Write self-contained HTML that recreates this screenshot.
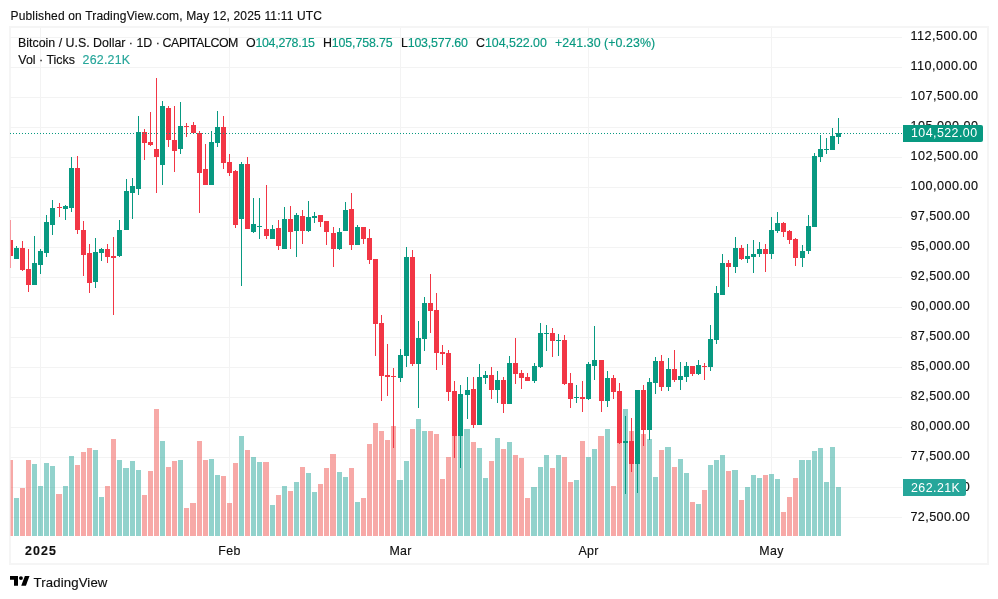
<!DOCTYPE html>
<html><head><meta charset="utf-8"><title>BTCUSD chart</title>
<style>
html,body{margin:0;padding:0;background:#fff;}
body{width:998px;height:599px;position:relative;overflow:hidden;font-family:"Liberation Sans",sans-serif;color:#0f0f0f;}
.abs{position:absolute;white-space:nowrap;}
#hdr,.lg,.pl,.tl,#brand{-webkit-text-stroke:0.15px currentColor;}
#hdr{left:10.5px;top:9px;font-size:12px;line-height:15px;letter-spacing:0.17px;color:#0f0f0f;}
#frame{position:absolute;left:9px;top:26px;width:976px;height:535px;border:2px solid #f5f5f5;}
svg{position:absolute;left:0;top:0;}
.lg{position:absolute;white-space:nowrap;font-size:12.4px;line-height:15px;letter-spacing:-0.13px;color:#0f0f0f;}
.g{color:#089981;}
.v{color:#26a69a;}
.pl{position:absolute;left:910.4px;height:20px;line-height:20px;font-size:12.6px;letter-spacing:0.42px;color:#0f0f0f;white-space:nowrap;}
.tl{position:absolute;top:541px;width:61px;text-align:center;height:20px;line-height:20px;font-size:12.4px;letter-spacing:0.3px;color:#0f0f0f;white-space:nowrap;}
.tl.b{font-weight:bold;letter-spacing:1.1px;text-indent:1.1px;}
.tag{position:absolute;left:903px;height:17px;line-height:17px;border-radius:0 2px 2px 0;color:#fff;font-size:12.4px;letter-spacing:0.45px;padding-left:8px;box-sizing:border-box;white-space:nowrap;}
#ptag{top:125px;width:80px;background:#089981;}
#vtag{top:479px;width:63px;background:#26a69a;line-height:19px;}
#brand{left:33.5px;top:574px;font-size:13.2px;line-height:18px;letter-spacing:0.13px;color:#0f0f0f;}
</style></head><body>
<div id="hdr" class="abs">Published on TradingView.com, May 12, 2025 11:11 UTC</div>
<div id="frame"></div>
<svg width="998" height="599" viewBox="0 0 998 599" shape-rendering="crispEdges">
<rect x="10" y="37" width="892" height="1" fill="#f3f3f3"/>
<rect x="10" y="67" width="892" height="1" fill="#f3f3f3"/>
<rect x="10" y="97" width="892" height="1" fill="#f3f3f3"/>
<rect x="10" y="127" width="892" height="1" fill="#f3f3f3"/>
<rect x="10" y="157" width="892" height="1" fill="#f3f3f3"/>
<rect x="10" y="187" width="892" height="1" fill="#f3f3f3"/>
<rect x="10" y="217" width="892" height="1" fill="#f3f3f3"/>
<rect x="10" y="247" width="892" height="1" fill="#f3f3f3"/>
<rect x="10" y="277" width="892" height="1" fill="#f3f3f3"/>
<rect x="10" y="307" width="892" height="1" fill="#f3f3f3"/>
<rect x="10" y="337" width="892" height="1" fill="#f3f3f3"/>
<rect x="10" y="367" width="892" height="1" fill="#f3f3f3"/>
<rect x="10" y="397" width="892" height="1" fill="#f3f3f3"/>
<rect x="10" y="427" width="892" height="1" fill="#f3f3f3"/>
<rect x="10" y="457" width="892" height="1" fill="#f3f3f3"/>
<rect x="10" y="487" width="892" height="1" fill="#f3f3f3"/>
<rect x="10" y="517" width="892" height="1" fill="#f3f3f3"/>
<rect x="40" y="28" width="1" height="508" fill="#f3f3f3"/>
<rect x="229" y="28" width="1" height="508" fill="#f3f3f3"/>
<rect x="400" y="28" width="1" height="508" fill="#f3f3f3"/>
<rect x="588" y="28" width="1" height="508" fill="#f3f3f3"/>
<rect x="771" y="28" width="1" height="508" fill="#f3f3f3"/>
<rect x="10" y="460" width="3" height="76" fill="rgba(239,83,80,0.5)"/>
<rect x="14" y="498" width="5" height="38" fill="rgba(38,166,154,0.5)"/>
<rect x="20" y="488" width="5" height="48" fill="rgba(239,83,80,0.5)"/>
<rect x="26" y="460" width="5" height="76" fill="rgba(239,83,80,0.5)"/>
<rect x="32" y="464" width="5" height="72" fill="rgba(38,166,154,0.5)"/>
<rect x="38" y="486" width="5" height="50" fill="rgba(38,166,154,0.5)"/>
<rect x="44" y="463" width="5" height="73" fill="rgba(38,166,154,0.5)"/>
<rect x="50" y="466" width="5" height="70" fill="rgba(38,166,154,0.5)"/>
<rect x="56" y="494" width="6" height="42" fill="rgba(239,83,80,0.5)"/>
<rect x="63" y="486" width="5" height="50" fill="rgba(38,166,154,0.5)"/>
<rect x="69" y="456" width="5" height="80" fill="rgba(38,166,154,0.5)"/>
<rect x="75" y="465" width="5" height="71" fill="rgba(239,83,80,0.5)"/>
<rect x="81" y="452" width="5" height="84" fill="rgba(239,83,80,0.5)"/>
<rect x="87" y="448" width="5" height="88" fill="rgba(239,83,80,0.5)"/>
<rect x="93" y="450" width="5" height="86" fill="rgba(38,166,154,0.5)"/>
<rect x="99" y="497" width="5" height="39" fill="rgba(38,166,154,0.5)"/>
<rect x="105" y="486" width="5" height="50" fill="rgba(239,83,80,0.5)"/>
<rect x="111" y="439" width="5" height="97" fill="rgba(239,83,80,0.5)"/>
<rect x="117" y="460" width="5" height="76" fill="rgba(38,166,154,0.5)"/>
<rect x="123" y="468" width="6" height="68" fill="rgba(38,166,154,0.5)"/>
<rect x="130" y="461" width="5" height="75" fill="rgba(38,166,154,0.5)"/>
<rect x="136" y="470" width="5" height="66" fill="rgba(38,166,154,0.5)"/>
<rect x="142" y="495" width="5" height="41" fill="rgba(239,83,80,0.5)"/>
<rect x="148" y="471" width="5" height="65" fill="rgba(239,83,80,0.5)"/>
<rect x="154" y="409" width="5" height="127" fill="rgba(239,83,80,0.5)"/>
<rect x="160" y="441" width="5" height="95" fill="rgba(38,166,154,0.5)"/>
<rect x="166" y="467" width="5" height="69" fill="rgba(239,83,80,0.5)"/>
<rect x="172" y="461" width="5" height="75" fill="rgba(239,83,80,0.5)"/>
<rect x="178" y="460" width="5" height="76" fill="rgba(38,166,154,0.5)"/>
<rect x="184" y="508" width="5" height="28" fill="rgba(239,83,80,0.5)"/>
<rect x="190" y="503" width="6" height="33" fill="rgba(239,83,80,0.5)"/>
<rect x="197" y="441" width="5" height="95" fill="rgba(239,83,80,0.5)"/>
<rect x="203" y="460" width="5" height="76" fill="rgba(239,83,80,0.5)"/>
<rect x="209" y="459" width="5" height="77" fill="rgba(38,166,154,0.5)"/>
<rect x="215" y="475" width="5" height="61" fill="rgba(38,166,154,0.5)"/>
<rect x="221" y="476" width="5" height="60" fill="rgba(239,83,80,0.5)"/>
<rect x="227" y="503" width="5" height="33" fill="rgba(239,83,80,0.5)"/>
<rect x="233" y="463" width="5" height="73" fill="rgba(239,83,80,0.5)"/>
<rect x="239" y="436" width="5" height="100" fill="rgba(38,166,154,0.5)"/>
<rect x="245" y="450" width="5" height="86" fill="rgba(239,83,80,0.5)"/>
<rect x="251" y="457" width="5" height="79" fill="rgba(38,166,154,0.5)"/>
<rect x="257" y="462" width="5" height="74" fill="rgba(38,166,154,0.5)"/>
<rect x="263" y="462" width="6" height="74" fill="rgba(239,83,80,0.5)"/>
<rect x="270" y="505" width="5" height="31" fill="rgba(38,166,154,0.5)"/>
<rect x="276" y="495" width="5" height="41" fill="rgba(239,83,80,0.5)"/>
<rect x="282" y="486" width="5" height="50" fill="rgba(38,166,154,0.5)"/>
<rect x="288" y="491" width="5" height="45" fill="rgba(239,83,80,0.5)"/>
<rect x="294" y="482" width="5" height="54" fill="rgba(38,166,154,0.5)"/>
<rect x="300" y="467" width="5" height="69" fill="rgba(239,83,80,0.5)"/>
<rect x="306" y="473" width="5" height="63" fill="rgba(38,166,154,0.5)"/>
<rect x="312" y="492" width="5" height="44" fill="rgba(38,166,154,0.5)"/>
<rect x="318" y="484" width="5" height="52" fill="rgba(239,83,80,0.5)"/>
<rect x="324" y="468" width="5" height="68" fill="rgba(239,83,80,0.5)"/>
<rect x="330" y="454" width="6" height="82" fill="rgba(239,83,80,0.5)"/>
<rect x="337" y="472" width="5" height="64" fill="rgba(38,166,154,0.5)"/>
<rect x="343" y="477" width="5" height="59" fill="rgba(38,166,154,0.5)"/>
<rect x="349" y="468" width="5" height="68" fill="rgba(239,83,80,0.5)"/>
<rect x="355" y="502" width="5" height="34" fill="rgba(38,166,154,0.5)"/>
<rect x="361" y="498" width="5" height="38" fill="rgba(239,83,80,0.5)"/>
<rect x="367" y="444" width="5" height="92" fill="rgba(239,83,80,0.5)"/>
<rect x="373" y="423" width="5" height="113" fill="rgba(239,83,80,0.5)"/>
<rect x="379" y="431" width="5" height="105" fill="rgba(239,83,80,0.5)"/>
<rect x="385" y="440" width="5" height="96" fill="rgba(239,83,80,0.5)"/>
<rect x="391" y="426" width="5" height="110" fill="rgba(239,83,80,0.5)"/>
<rect x="397" y="480" width="6" height="56" fill="rgba(38,166,154,0.5)"/>
<rect x="404" y="461" width="5" height="75" fill="rgba(38,166,154,0.5)"/>
<rect x="410" y="429" width="5" height="107" fill="rgba(239,83,80,0.5)"/>
<rect x="416" y="419" width="5" height="117" fill="rgba(38,166,154,0.5)"/>
<rect x="422" y="431" width="5" height="105" fill="rgba(38,166,154,0.5)"/>
<rect x="428" y="431" width="5" height="105" fill="rgba(239,83,80,0.5)"/>
<rect x="434" y="434" width="5" height="102" fill="rgba(239,83,80,0.5)"/>
<rect x="440" y="479" width="5" height="57" fill="rgba(239,83,80,0.5)"/>
<rect x="446" y="457" width="5" height="79" fill="rgba(239,83,80,0.5)"/>
<rect x="452" y="430" width="5" height="106" fill="rgba(239,83,80,0.5)"/>
<rect x="458" y="430" width="5" height="106" fill="rgba(38,166,154,0.5)"/>
<rect x="464" y="429" width="6" height="107" fill="rgba(38,166,154,0.5)"/>
<rect x="471" y="442" width="5" height="94" fill="rgba(239,83,80,0.5)"/>
<rect x="477" y="448" width="5" height="88" fill="rgba(38,166,154,0.5)"/>
<rect x="483" y="478" width="5" height="58" fill="rgba(38,166,154,0.5)"/>
<rect x="489" y="461" width="5" height="75" fill="rgba(239,83,80,0.5)"/>
<rect x="495" y="438" width="5" height="98" fill="rgba(38,166,154,0.5)"/>
<rect x="501" y="449" width="5" height="87" fill="rgba(239,83,80,0.5)"/>
<rect x="507" y="442" width="5" height="94" fill="rgba(38,166,154,0.5)"/>
<rect x="513" y="455" width="5" height="81" fill="rgba(239,83,80,0.5)"/>
<rect x="519" y="458" width="5" height="78" fill="rgba(239,83,80,0.5)"/>
<rect x="525" y="498" width="5" height="38" fill="rgba(239,83,80,0.5)"/>
<rect x="531" y="487" width="6" height="49" fill="rgba(38,166,154,0.5)"/>
<rect x="538" y="467" width="5" height="69" fill="rgba(38,166,154,0.5)"/>
<rect x="544" y="455" width="5" height="81" fill="rgba(38,166,154,0.5)"/>
<rect x="550" y="468" width="5" height="68" fill="rgba(239,83,80,0.5)"/>
<rect x="556" y="455" width="5" height="81" fill="rgba(38,166,154,0.5)"/>
<rect x="562" y="457" width="5" height="79" fill="rgba(239,83,80,0.5)"/>
<rect x="568" y="482" width="5" height="54" fill="rgba(239,83,80,0.5)"/>
<rect x="574" y="480" width="5" height="56" fill="rgba(38,166,154,0.5)"/>
<rect x="580" y="441" width="5" height="95" fill="rgba(239,83,80,0.5)"/>
<rect x="586" y="457" width="5" height="79" fill="rgba(38,166,154,0.5)"/>
<rect x="592" y="449" width="5" height="87" fill="rgba(38,166,154,0.5)"/>
<rect x="598" y="436" width="6" height="100" fill="rgba(239,83,80,0.5)"/>
<rect x="605" y="429" width="5" height="107" fill="rgba(38,166,154,0.5)"/>
<rect x="611" y="486" width="5" height="50" fill="rgba(239,83,80,0.5)"/>
<rect x="617" y="440" width="5" height="96" fill="rgba(239,83,80,0.5)"/>
<rect x="623" y="409" width="5" height="127" fill="rgba(38,166,154,0.5)"/>
<rect x="629" y="431" width="5" height="105" fill="rgba(239,83,80,0.5)"/>
<rect x="635" y="430" width="5" height="106" fill="rgba(38,166,154,0.5)"/>
<rect x="641" y="434" width="5" height="102" fill="rgba(239,83,80,0.5)"/>
<rect x="647" y="439" width="5" height="97" fill="rgba(38,166,154,0.5)"/>
<rect x="653" y="477" width="5" height="59" fill="rgba(38,166,154,0.5)"/>
<rect x="659" y="450" width="5" height="86" fill="rgba(239,83,80,0.5)"/>
<rect x="665" y="447" width="6" height="89" fill="rgba(38,166,154,0.5)"/>
<rect x="672" y="467" width="5" height="69" fill="rgba(239,83,80,0.5)"/>
<rect x="678" y="459" width="5" height="77" fill="rgba(38,166,154,0.5)"/>
<rect x="684" y="473" width="5" height="63" fill="rgba(38,166,154,0.5)"/>
<rect x="690" y="502" width="5" height="34" fill="rgba(239,83,80,0.5)"/>
<rect x="696" y="504" width="5" height="32" fill="rgba(38,166,154,0.5)"/>
<rect x="702" y="490" width="5" height="46" fill="rgba(239,83,80,0.5)"/>
<rect x="708" y="465" width="5" height="71" fill="rgba(38,166,154,0.5)"/>
<rect x="714" y="460" width="5" height="76" fill="rgba(38,166,154,0.5)"/>
<rect x="720" y="455" width="5" height="81" fill="rgba(38,166,154,0.5)"/>
<rect x="726" y="471" width="5" height="65" fill="rgba(239,83,80,0.5)"/>
<rect x="732" y="470" width="6" height="66" fill="rgba(38,166,154,0.5)"/>
<rect x="739" y="500" width="5" height="36" fill="rgba(239,83,80,0.5)"/>
<rect x="745" y="487" width="5" height="49" fill="rgba(38,166,154,0.5)"/>
<rect x="751" y="475" width="5" height="61" fill="rgba(38,166,154,0.5)"/>
<rect x="757" y="478" width="5" height="58" fill="rgba(38,166,154,0.5)"/>
<rect x="763" y="475" width="5" height="61" fill="rgba(239,83,80,0.5)"/>
<rect x="769" y="474" width="5" height="62" fill="rgba(38,166,154,0.5)"/>
<rect x="775" y="479" width="5" height="57" fill="rgba(38,166,154,0.5)"/>
<rect x="781" y="512" width="5" height="24" fill="rgba(239,83,80,0.5)"/>
<rect x="787" y="497" width="5" height="39" fill="rgba(239,83,80,0.5)"/>
<rect x="793" y="478" width="5" height="58" fill="rgba(239,83,80,0.5)"/>
<rect x="799" y="460" width="6" height="76" fill="rgba(38,166,154,0.5)"/>
<rect x="806" y="460" width="5" height="76" fill="rgba(38,166,154,0.5)"/>
<rect x="812" y="451" width="5" height="85" fill="rgba(38,166,154,0.5)"/>
<rect x="818" y="448" width="5" height="88" fill="rgba(38,166,154,0.5)"/>
<rect x="824" y="482" width="5" height="54" fill="rgba(38,166,154,0.5)"/>
<rect x="830" y="447" width="5" height="89" fill="rgba(38,166,154,0.5)"/>
<rect x="836" y="487" width="5" height="49" fill="rgba(38,166,154,0.5)"/>
<rect x="10" y="220" width="1" height="48" fill="#f23645"/>
<rect x="10" y="240" width="3" height="15.5" fill="#f23645"/>
<rect x="16" y="246" width="1" height="13" fill="#089981"/>
<rect x="14" y="248" width="5" height="11" fill="#089981"/>
<rect x="22" y="241" width="1" height="30" fill="#f23645"/>
<rect x="20" y="248" width="5" height="22" fill="#f23645"/>
<rect x="28" y="249" width="1" height="43" fill="#f23645"/>
<rect x="26" y="269" width="5" height="16" fill="#f23645"/>
<rect x="34" y="236" width="1" height="49" fill="#089981"/>
<rect x="32" y="263" width="5" height="22" fill="#089981"/>
<rect x="40" y="249" width="1" height="25" fill="#089981"/>
<rect x="38" y="251" width="5" height="14" fill="#089981"/>
<rect x="46" y="215" width="1" height="42" fill="#089981"/>
<rect x="44" y="222" width="5" height="31" fill="#089981"/>
<rect x="52" y="200" width="1" height="35" fill="#089981"/>
<rect x="50" y="208" width="5" height="17" fill="#089981"/>
<rect x="59" y="203" width="1" height="14" fill="#f23645"/>
<rect x="57" y="207" width="5" height="1" fill="#f23645"/>
<rect x="65" y="205" width="1" height="15" fill="#089981"/>
<rect x="63" y="206" width="5" height="3" fill="#089981"/>
<rect x="71" y="157" width="1" height="55" fill="#089981"/>
<rect x="69" y="168" width="5" height="40" fill="#089981"/>
<rect x="77" y="156" width="1" height="78" fill="#f23645"/>
<rect x="75" y="168" width="5" height="62" fill="#f23645"/>
<rect x="83" y="221" width="1" height="55" fill="#f23645"/>
<rect x="81" y="230" width="5" height="25" fill="#f23645"/>
<rect x="89" y="244" width="1" height="49" fill="#f23645"/>
<rect x="87" y="253" width="5" height="30" fill="#f23645"/>
<rect x="95" y="238" width="1" height="50" fill="#089981"/>
<rect x="93" y="252" width="5" height="30" fill="#089981"/>
<rect x="101" y="248" width="1" height="13" fill="#089981"/>
<rect x="99" y="249" width="5" height="4" fill="#089981"/>
<rect x="107" y="244" width="1" height="19" fill="#f23645"/>
<rect x="105" y="249" width="5" height="8" fill="#f23645"/>
<rect x="113" y="237" width="1" height="78" fill="#f23645"/>
<rect x="111" y="256" width="5" height="2" fill="#f23645"/>
<rect x="119" y="220" width="1" height="37" fill="#089981"/>
<rect x="117" y="230" width="5" height="26" fill="#089981"/>
<rect x="126" y="179" width="1" height="51" fill="#089981"/>
<rect x="124" y="191" width="5" height="39" fill="#089981"/>
<rect x="132" y="178" width="1" height="41" fill="#089981"/>
<rect x="130" y="186" width="5" height="7" fill="#089981"/>
<rect x="138" y="116" width="1" height="79" fill="#089981"/>
<rect x="136" y="132" width="5" height="57" fill="#089981"/>
<rect x="144" y="129" width="1" height="31" fill="#f23645"/>
<rect x="142" y="131.5" width="5" height="11" fill="#f23645"/>
<rect x="150" y="112" width="1" height="34" fill="#f23645"/>
<rect x="148" y="142" width="5" height="3" fill="#f23645"/>
<rect x="156" y="78" width="1" height="115" fill="#f23645"/>
<rect x="154" y="149" width="5" height="8" fill="#f23645"/>
<rect x="162" y="101" width="1" height="84" fill="#089981"/>
<rect x="160" y="106" width="5" height="59" fill="#089981"/>
<rect x="168" y="106" width="1" height="41" fill="#f23645"/>
<rect x="166" y="108" width="5" height="31.5" fill="#f23645"/>
<rect x="174" y="106" width="1" height="66" fill="#f23645"/>
<rect x="172" y="140" width="5" height="10.5" fill="#f23645"/>
<rect x="180" y="102" width="1" height="52" fill="#089981"/>
<rect x="178" y="126" width="5" height="22.5" fill="#089981"/>
<rect x="186" y="123" width="1" height="14" fill="#f23645"/>
<rect x="184" y="126" width="5" height="1" fill="#f23645"/>
<rect x="193" y="122" width="1" height="11" fill="#f23645"/>
<rect x="191" y="125" width="5" height="8" fill="#f23645"/>
<rect x="199" y="131" width="1" height="82" fill="#f23645"/>
<rect x="197" y="133" width="5" height="39.5" fill="#f23645"/>
<rect x="205" y="144" width="1" height="40.5" fill="#f23645"/>
<rect x="203" y="169" width="5" height="15.5" fill="#f23645"/>
<rect x="211" y="131" width="1" height="53.5" fill="#089981"/>
<rect x="209" y="142" width="5" height="42.5" fill="#089981"/>
<rect x="217" y="111" width="1" height="36" fill="#089981"/>
<rect x="215" y="127" width="5" height="15.5" fill="#089981"/>
<rect x="223" y="116" width="1" height="53" fill="#f23645"/>
<rect x="221" y="127" width="5" height="36" fill="#f23645"/>
<rect x="229" y="154" width="1" height="21.5" fill="#f23645"/>
<rect x="227" y="162" width="5" height="10.5" fill="#f23645"/>
<rect x="235" y="170" width="1" height="58" fill="#f23645"/>
<rect x="233" y="171" width="5" height="54" fill="#f23645"/>
<rect x="241" y="162" width="1" height="123.5" fill="#089981"/>
<rect x="239" y="164" width="5" height="55" fill="#089981"/>
<rect x="247" y="157" width="1" height="72" fill="#f23645"/>
<rect x="245" y="164" width="5" height="65" fill="#f23645"/>
<rect x="253" y="198" width="1" height="35" fill="#089981"/>
<rect x="251" y="224" width="5" height="8" fill="#089981"/>
<rect x="259" y="198" width="1" height="41" fill="#089981"/>
<rect x="257" y="226" width="5" height="1" fill="#089981"/>
<rect x="266" y="185" width="1" height="54" fill="#f23645"/>
<rect x="264" y="229" width="5" height="6.5" fill="#f23645"/>
<rect x="272" y="225" width="1" height="14" fill="#089981"/>
<rect x="270" y="229" width="5" height="10" fill="#089981"/>
<rect x="278" y="220" width="1" height="30" fill="#f23645"/>
<rect x="276" y="228" width="5" height="17.5" fill="#f23645"/>
<rect x="284" y="207" width="1" height="42" fill="#089981"/>
<rect x="282" y="219" width="5" height="30" fill="#089981"/>
<rect x="290" y="206" width="1" height="43" fill="#f23645"/>
<rect x="288" y="219" width="5" height="13" fill="#f23645"/>
<rect x="296" y="213" width="1" height="44" fill="#089981"/>
<rect x="294" y="215" width="5" height="16" fill="#089981"/>
<rect x="302" y="210" width="1" height="34" fill="#f23645"/>
<rect x="300" y="216" width="5" height="15" fill="#f23645"/>
<rect x="308" y="201" width="1" height="31" fill="#089981"/>
<rect x="306" y="217" width="5" height="14" fill="#089981"/>
<rect x="314" y="212" width="1" height="11" fill="#089981"/>
<rect x="312" y="215.5" width="5" height="2" fill="#089981"/>
<rect x="320" y="215" width="1" height="12" fill="#f23645"/>
<rect x="318" y="215" width="5" height="7" fill="#f23645"/>
<rect x="326" y="221" width="1" height="24" fill="#f23645"/>
<rect x="324" y="221" width="5" height="11" fill="#f23645"/>
<rect x="333" y="227" width="1" height="40" fill="#f23645"/>
<rect x="331" y="233" width="5" height="16" fill="#f23645"/>
<rect x="339" y="228" width="1" height="22" fill="#089981"/>
<rect x="337" y="232" width="5" height="17" fill="#089981"/>
<rect x="345" y="202" width="1" height="29" fill="#089981"/>
<rect x="343" y="210" width="5" height="21" fill="#089981"/>
<rect x="351" y="193" width="1" height="57" fill="#f23645"/>
<rect x="349" y="209" width="5" height="36" fill="#f23645"/>
<rect x="357" y="225" width="1" height="20" fill="#089981"/>
<rect x="355" y="227" width="5" height="18" fill="#089981"/>
<rect x="363" y="227" width="1" height="17" fill="#f23645"/>
<rect x="361" y="227" width="5" height="12" fill="#f23645"/>
<rect x="369" y="229" width="1" height="35" fill="#f23645"/>
<rect x="367" y="238" width="5" height="22" fill="#f23645"/>
<rect x="375" y="259" width="1" height="97" fill="#f23645"/>
<rect x="373" y="259" width="5" height="65" fill="#f23645"/>
<rect x="381" y="315" width="1" height="86" fill="#f23645"/>
<rect x="379" y="323" width="5" height="53" fill="#f23645"/>
<rect x="387" y="344" width="1" height="52" fill="#f23645"/>
<rect x="385" y="375" width="5" height="2" fill="#f23645"/>
<rect x="393" y="368" width="1" height="80" fill="#f23645"/>
<rect x="391" y="375.5" width="5" height="1.5" fill="#f23645"/>
<rect x="400" y="349" width="1" height="33" fill="#089981"/>
<rect x="398" y="355" width="5" height="23" fill="#089981"/>
<rect x="406" y="247" width="1" height="120" fill="#089981"/>
<rect x="404" y="257" width="5" height="99" fill="#089981"/>
<rect x="412" y="250" width="1" height="116" fill="#f23645"/>
<rect x="410" y="257" width="5" height="107" fill="#f23645"/>
<rect x="418" y="321" width="1" height="87" fill="#089981"/>
<rect x="416" y="338" width="5" height="26" fill="#089981"/>
<rect x="424" y="297" width="1" height="54" fill="#089981"/>
<rect x="422" y="303" width="5" height="36" fill="#089981"/>
<rect x="430" y="274" width="1" height="59" fill="#f23645"/>
<rect x="428" y="303" width="5" height="8" fill="#f23645"/>
<rect x="436" y="293" width="1" height="77" fill="#f23645"/>
<rect x="434" y="310" width="5" height="43" fill="#f23645"/>
<rect x="442" y="345" width="1" height="20" fill="#f23645"/>
<rect x="440" y="352" width="5" height="2" fill="#f23645"/>
<rect x="448" y="350" width="1" height="51" fill="#f23645"/>
<rect x="446" y="353" width="5" height="39" fill="#f23645"/>
<rect x="454" y="381" width="1" height="77" fill="#f23645"/>
<rect x="452" y="391" width="5" height="45" fill="#f23645"/>
<rect x="460" y="385" width="1" height="83" fill="#089981"/>
<rect x="458" y="394" width="5" height="42" fill="#089981"/>
<rect x="467" y="377" width="1" height="42" fill="#089981"/>
<rect x="465" y="390" width="5" height="5" fill="#089981"/>
<rect x="473" y="377" width="1" height="51" fill="#f23645"/>
<rect x="471" y="389" width="5" height="36" fill="#f23645"/>
<rect x="479" y="364" width="1" height="61" fill="#089981"/>
<rect x="477" y="377" width="5" height="48" fill="#089981"/>
<rect x="485" y="371" width="1" height="13" fill="#089981"/>
<rect x="483" y="375" width="5" height="3" fill="#089981"/>
<rect x="491" y="367" width="1" height="32" fill="#f23645"/>
<rect x="489" y="375" width="5" height="15" fill="#f23645"/>
<rect x="497" y="371" width="1" height="32" fill="#089981"/>
<rect x="495" y="380" width="5" height="10" fill="#089981"/>
<rect x="503" y="377" width="1" height="36" fill="#f23645"/>
<rect x="501" y="380" width="5" height="24" fill="#f23645"/>
<rect x="509" y="356" width="1" height="48" fill="#089981"/>
<rect x="507" y="363" width="5" height="41" fill="#089981"/>
<rect x="515" y="338" width="1" height="46" fill="#f23645"/>
<rect x="513" y="363" width="5" height="11" fill="#f23645"/>
<rect x="521" y="370" width="1" height="19" fill="#f23645"/>
<rect x="519" y="373" width="5" height="5" fill="#f23645"/>
<rect x="527" y="373" width="1" height="8" fill="#f23645"/>
<rect x="525" y="377" width="5" height="4" fill="#f23645"/>
<rect x="534" y="363" width="1" height="20" fill="#089981"/>
<rect x="532" y="366" width="5" height="15" fill="#089981"/>
<rect x="540" y="323" width="1" height="45" fill="#089981"/>
<rect x="538" y="333" width="5" height="34" fill="#089981"/>
<rect x="546" y="325" width="1" height="26" fill="#089981"/>
<rect x="544" y="333" width="5" height="1" fill="#089981"/>
<rect x="552" y="328" width="1" height="29" fill="#f23645"/>
<rect x="550" y="333" width="5" height="8" fill="#f23645"/>
<rect x="558" y="334" width="1" height="22" fill="#089981"/>
<rect x="556" y="340" width="5" height="1" fill="#089981"/>
<rect x="564" y="335" width="1" height="50" fill="#f23645"/>
<rect x="562" y="340" width="5" height="44" fill="#f23645"/>
<rect x="570" y="373" width="1" height="35" fill="#f23645"/>
<rect x="568" y="383" width="5" height="16" fill="#f23645"/>
<rect x="576" y="385" width="1" height="18" fill="#089981"/>
<rect x="574" y="397" width="5" height="1" fill="#089981"/>
<rect x="582" y="381" width="1" height="31" fill="#f23645"/>
<rect x="580" y="397" width="5" height="2" fill="#f23645"/>
<rect x="588" y="362" width="1" height="38" fill="#089981"/>
<rect x="586" y="364" width="5" height="35" fill="#089981"/>
<rect x="594" y="326" width="1" height="54" fill="#089981"/>
<rect x="592" y="360" width="5" height="6" fill="#089981"/>
<rect x="601" y="360" width="1" height="52" fill="#f23645"/>
<rect x="599" y="360" width="5" height="41" fill="#f23645"/>
<rect x="607" y="371" width="1" height="36" fill="#089981"/>
<rect x="605" y="378" width="5" height="23" fill="#089981"/>
<rect x="613" y="375" width="1" height="24" fill="#f23645"/>
<rect x="611" y="378" width="5" height="14" fill="#f23645"/>
<rect x="619" y="383" width="1" height="61" fill="#f23645"/>
<rect x="617" y="391" width="5" height="52" fill="#f23645"/>
<rect x="625" y="416" width="1" height="78" fill="#089981"/>
<rect x="623" y="441" width="5" height="2" fill="#089981"/>
<rect x="631" y="418" width="1" height="54" fill="#f23645"/>
<rect x="629" y="441" width="5" height="23" fill="#f23645"/>
<rect x="637" y="390" width="1" height="103" fill="#089981"/>
<rect x="635" y="390" width="5" height="74" fill="#089981"/>
<rect x="643" y="385" width="1" height="61" fill="#f23645"/>
<rect x="641" y="390" width="5" height="40" fill="#f23645"/>
<rect x="649" y="378" width="1" height="62" fill="#089981"/>
<rect x="647" y="382" width="5" height="48" fill="#089981"/>
<rect x="655" y="357" width="1" height="37" fill="#089981"/>
<rect x="653" y="361" width="5" height="22" fill="#089981"/>
<rect x="661" y="355" width="1" height="36" fill="#f23645"/>
<rect x="659" y="361" width="5" height="26" fill="#f23645"/>
<rect x="668" y="358" width="1" height="33" fill="#089981"/>
<rect x="666" y="369" width="5" height="18" fill="#089981"/>
<rect x="674" y="350" width="1" height="32" fill="#f23645"/>
<rect x="672" y="369" width="5" height="11" fill="#f23645"/>
<rect x="680" y="362" width="1" height="28" fill="#089981"/>
<rect x="678" y="376" width="5" height="4" fill="#089981"/>
<rect x="686" y="362" width="1" height="20" fill="#089981"/>
<rect x="684" y="366" width="5" height="11" fill="#089981"/>
<rect x="692" y="366" width="1" height="10" fill="#f23645"/>
<rect x="690" y="366" width="5" height="8" fill="#f23645"/>
<rect x="698" y="360" width="1" height="15" fill="#089981"/>
<rect x="696" y="365" width="5" height="9" fill="#089981"/>
<rect x="704" y="363" width="1" height="17" fill="#f23645"/>
<rect x="702" y="365.5" width="5" height="1.5" fill="#f23645"/>
<rect x="710" y="325" width="1" height="46" fill="#089981"/>
<rect x="708" y="339" width="5" height="28" fill="#089981"/>
<rect x="716" y="286" width="1" height="58" fill="#089981"/>
<rect x="714" y="293" width="5" height="47" fill="#089981"/>
<rect x="722" y="254" width="1" height="41" fill="#089981"/>
<rect x="720" y="263" width="5" height="32" fill="#089981"/>
<rect x="728" y="260" width="1" height="27" fill="#f23645"/>
<rect x="726" y="263" width="5" height="4" fill="#f23645"/>
<rect x="735" y="237" width="1" height="36" fill="#089981"/>
<rect x="733" y="248" width="5" height="19" fill="#089981"/>
<rect x="741" y="245" width="1" height="15" fill="#f23645"/>
<rect x="739" y="248" width="5" height="11" fill="#f23645"/>
<rect x="747" y="244" width="1" height="19" fill="#089981"/>
<rect x="745" y="256" width="5" height="3" fill="#089981"/>
<rect x="753" y="240" width="1" height="33" fill="#089981"/>
<rect x="751" y="254" width="5" height="3" fill="#089981"/>
<rect x="759" y="242" width="1" height="15" fill="#089981"/>
<rect x="757" y="249" width="5" height="5" fill="#089981"/>
<rect x="765" y="244" width="1" height="28" fill="#f23645"/>
<rect x="763" y="249" width="5" height="5" fill="#f23645"/>
<rect x="771" y="217" width="1" height="42" fill="#089981"/>
<rect x="769" y="230" width="5" height="24" fill="#089981"/>
<rect x="777" y="212" width="1" height="21" fill="#089981"/>
<rect x="775" y="223" width="5" height="8" fill="#089981"/>
<rect x="783" y="222" width="1" height="15" fill="#f23645"/>
<rect x="781" y="223" width="5" height="9" fill="#f23645"/>
<rect x="789" y="230" width="1" height="14" fill="#f23645"/>
<rect x="787" y="231" width="5" height="9" fill="#f23645"/>
<rect x="795" y="238" width="1" height="28" fill="#f23645"/>
<rect x="793" y="239" width="5" height="19" fill="#f23645"/>
<rect x="802" y="245" width="1" height="22" fill="#089981"/>
<rect x="800" y="251" width="5" height="7" fill="#089981"/>
<rect x="808" y="215" width="1" height="39" fill="#089981"/>
<rect x="806" y="226" width="5" height="25" fill="#089981"/>
<rect x="814" y="153" width="1" height="74" fill="#089981"/>
<rect x="812" y="156" width="5" height="71" fill="#089981"/>
<rect x="820" y="135" width="1" height="27" fill="#089981"/>
<rect x="818" y="149" width="5" height="8" fill="#089981"/>
<rect x="826" y="138" width="1" height="16" fill="#089981"/>
<rect x="824" y="149" width="5" height="1" fill="#089981"/>
<rect x="832" y="128" width="1" height="22" fill="#089981"/>
<rect x="830" y="136" width="5" height="14" fill="#089981"/>
<rect x="838" y="118" width="1" height="26" fill="#089981"/>
<rect x="836" y="133" width="5" height="4" fill="#089981"/>
<line x1="10" y1="133.5" x2="903" y2="133.5" stroke="#089981" stroke-width="1" stroke-dasharray="1 2" stroke-dashoffset="0"/>
</svg>
<div class="lg" id="l1" style="left:18px;top:36px;letter-spacing:0px">Bitcoin / U.S. Dollar · 1D ·</div>
<div class="lg" id="l1b" style="left:162.6px;top:36px;letter-spacing:-0.42px">CAPITALCOM</div>
<div class="lg" style="left:246px;top:36px;letter-spacing:-0.277px" id="lo">O<span class="g">104,278.15</span></div>
<div class="lg" style="left:323px;top:36px;letter-spacing:-0.137px" id="lh">H<span class="g">105,758.75</span></div>
<div class="lg" style="left:401px;top:36px;letter-spacing:-0.2px" id="ll">L<span class="g">103,577.60</span></div>
<div class="lg" style="left:476px;top:36px;letter-spacing:-0.01px" id="lc">C<span class="g">104,522.00</span></div>
<div class="lg g" style="left:555px;top:36px;letter-spacing:0.067px" id="lchg">+241.30 (+0.23%)</div>
<div class="lg" style="left:18.3px;top:53px;letter-spacing:0.02px" id="l2">Vol · Ticks</div>
<div class="lg v" style="left:82.5px;top:53px;letter-spacing:0.24px" id="l2v">262.21K</div>
<div class="pl" style="top:26px;letter-spacing:0.52px">112,500.00</div>
<div class="pl" style="top:56px;letter-spacing:0.52px">110,000.00</div>
<div class="pl" style="top:86px;letter-spacing:0.52px">107,500.00</div>
<div class="pl" style="top:116px;letter-spacing:0.52px">105,000.00</div>
<div class="pl" style="top:146px;letter-spacing:0.52px">102,500.00</div>
<div class="pl" style="top:176px;letter-spacing:0.52px">100,000.00</div>
<div class="pl" style="top:206px">97,500.00</div>
<div class="pl" style="top:236px">95,000.00</div>
<div class="pl" style="top:266px">92,500.00</div>
<div class="pl" style="top:296px">90,000.00</div>
<div class="pl" style="top:326px">87,500.00</div>
<div class="pl" style="top:356px">85,000.00</div>
<div class="pl" style="top:386px">82,500.00</div>
<div class="pl" style="top:416px">80,000.00</div>
<div class="pl" style="top:446px">77,500.00</div>
<div class="pl" style="top:477px">75,000.00</div>
<div class="pl" style="top:507px">72,500.00</div>
<div class="tag" id="ptag">104,522.00</div>
<div class="tag" id="vtag">262.21K</div>
<div class="tl b" style="left:10px">2025</div>
<div class="tl" style="left:199px">Feb</div>
<div class="tl" style="left:370px">Mar</div>
<div class="tl" style="left:558px">Apr</div>
<div class="tl" style="left:741px">May</div>
<svg width="998" height="599" viewBox="0 0 998 599" style="pointer-events:none">
<rect x="10" y="220" width="1" height="48" fill="#f9f9f9" opacity="0.5"/>
<rect x="10" y="460" width="1" height="76" fill="#f9f9f9" opacity="0.5"/>
<g fill="#000">
<path d="M10 576H18V585.8H14V579.7H10Z"/>
<circle cx="20.95" cy="578.1" r="1.95"/>
<path d="M24.85 576H29.5L25.9 585.8H21.25Z"/>
</g>
</svg>
<div id="brand" class="abs">TradingView</div>
</body></html>
